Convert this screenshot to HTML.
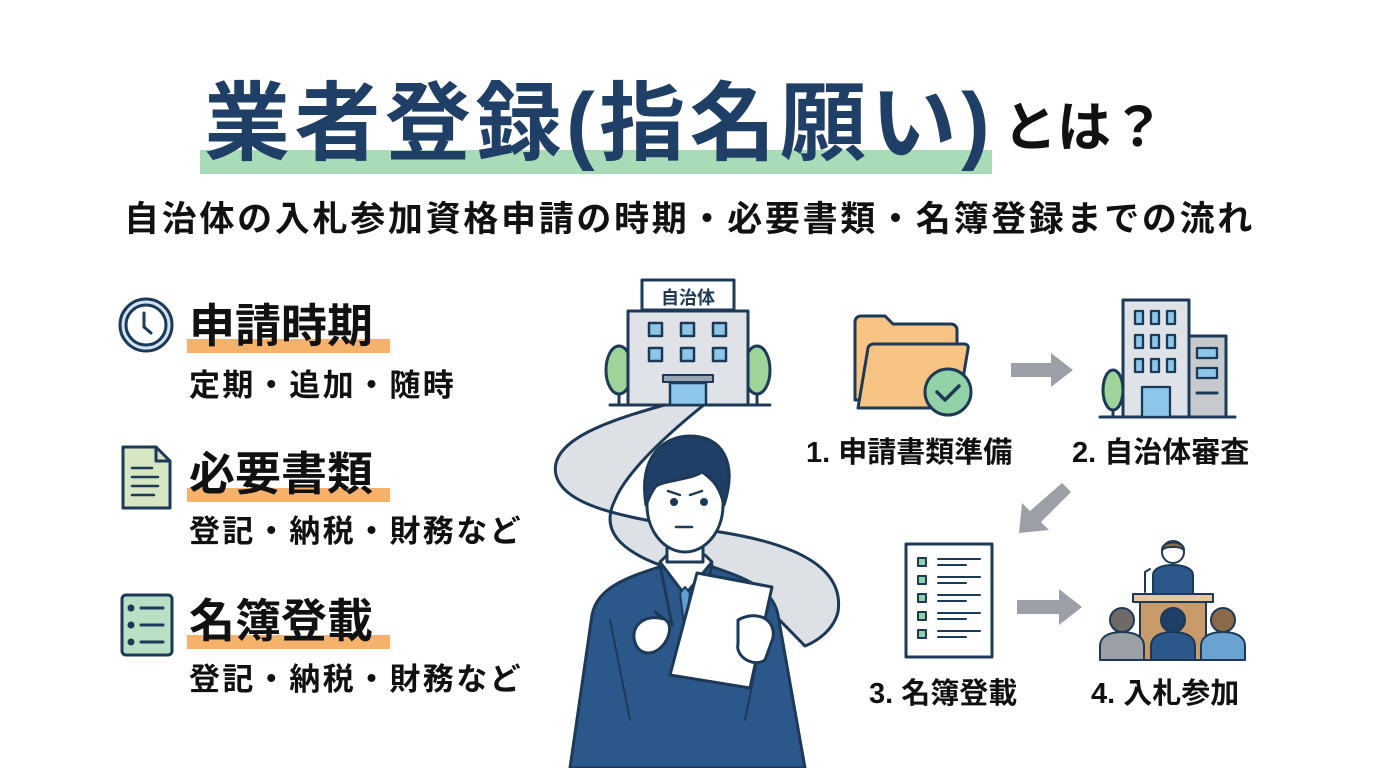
<!DOCTYPE html>
<html><head><meta charset="utf-8"><style>
body{margin:0;width:1376px;height:768px;background:#fff;overflow:hidden;position:relative;font-family:"Liberation Sans","Noto Sans CJK JP",sans-serif;font-weight:700}
.a{position:absolute;white-space:nowrap}
</style></head><body>
<div class="a" style="left:200px;top:150px;width:792px;height:24px;background:#a8dcb8"></div>
<div class="a" style="left:204px;top:74px;font-size:86px;color:#1f3f66;letter-spacing:4.5px;line-height:100px">業者登録(指名願い)</div>
<div class="a" style="left:1003px;top:93px;font-size:54px;color:#111;line-height:70px">とは？</div>
<div class="a" style="left:124px;top:196px;font-size:35px;color:#111;line-height:48px;letter-spacing:2.7px">自治体の入札参加資格申請の時期・必要書類・名簿登録までの流れ</div>

<div class="a" style="left:187px;top:339px;width:203px;height:14px;background:#f6b26b"></div>
<div class="a" style="left:187px;top:488px;width:203px;height:14px;background:#f6b26b"></div>
<div class="a" style="left:187px;top:635px;width:203px;height:14px;background:#f6b26b"></div>
<div class="a" style="left:189px;top:298px;font-size:46px;color:#111;line-height:56px">申請時期</div>
<div class="a" style="left:189px;top:446px;font-size:46px;color:#111;line-height:56px">必要書類</div>
<div class="a" style="left:189px;top:593px;font-size:46px;color:#111;line-height:56px">名簿登載</div>
<div class="a" style="left:189px;top:365px;font-size:31px;color:#111;line-height:42px;letter-spacing:2.4px">定期・追加・随時</div>
<div class="a" style="left:189px;top:511px;font-size:31px;color:#111;line-height:42px;letter-spacing:2.4px">登記・納税・財務など</div>
<div class="a" style="left:189px;top:659px;font-size:31px;color:#111;line-height:42px;letter-spacing:2.4px">登記・納税・財務など</div>

<div class="a" style="left:806px;top:433px;font-size:29px;color:#111;line-height:40px">1. 申請書類準備</div>
<div class="a" style="left:1072px;top:433px;font-size:29px;color:#111;line-height:40px">2. 自治体審査</div>
<div class="a" style="left:869px;top:674px;font-size:29px;color:#111;line-height:40px">3. 名簿登載</div>
<div class="a" style="left:1091px;top:674px;font-size:29px;color:#111;line-height:40px">4. 入札参加</div>

<svg class="a" style="left:0;top:0" width="1376" height="768" viewBox="0 0 1376 768">
<g stroke="#1c3a57" stroke-width="3" stroke-linejoin="round" stroke-linecap="round">
<circle cx="146" cy="325" r="26" fill="#cfe3f2"/><circle cx="146" cy="325" r="20" fill="#fff"/>
<path d="M144 313v14l7 6" fill="none"/>
<path d="M123 447h33l14 14v47h-47z" fill="#d6e6c2"/><path d="M156 447v14h14" fill="none"/>
<path d="M132 468h20M132 477h26M132 486h26M132 495h22" fill="none" stroke-width="2.5"/>
<rect x="122" y="595" width="50" height="60" rx="4" fill="#b9dfc4"/>
<path d="M141 608h22M141 625h22M141 642h22" fill="none"/>
<circle cx="131" cy="608" r="2" fill="#1c3a57"/><circle cx="131" cy="625" r="2" fill="#1c3a57"/><circle cx="131" cy="642" r="2" fill="#1c3a57"/>

<path d="M668 404 C610 420 548 440 556 475 C565 510 640 520 720 532 C790 543 845 565 838 612 C834 628 820 640 805 646 L760 600 C740 585 700 575 660 565 C620 550 600 530 615 500 C625 475 660 440 705 404z" fill="#dde0e4"/>
<path d="M610 405h160" fill="none"/>
<ellipse cx="619" cy="370" rx="13" ry="24" fill="#9ed39a"/><path d="M619 394v11" />
<ellipse cx="757" cy="370" rx="13" ry="24" fill="#9ed39a"/><path d="M757 394v11"/>
<rect x="628" y="311" width="120" height="94" fill="#dfe2e7"/>
<rect x="642" y="280" width="92" height="30" fill="#fff"/>
<g fill="#8ec6ea" stroke-width="2.5">
<rect x="649" y="323" width="13" height="13"/><rect x="681" y="323" width="13" height="13"/><rect x="713" y="323" width="13" height="13"/>
<rect x="649" y="348" width="13" height="13"/><rect x="681" y="348" width="13" height="13"/><rect x="713" y="348" width="13" height="13"/>
<rect x="670" y="383" width="36" height="22"/></g>
<rect x="663" y="375" width="50" height="7" fill="#9aa4ae" stroke-width="2"/>

<path d="M570 768 L592 615 C597 588 625 578 662 566 L710 566 C745 578 773 588 778 615 L805 768z" fill="#2c578a"/>
<path d="M660 562 L685 595 L712 562 L705 555 H667z" fill="#fff"/>
<path d="M680 593 l5 -6 l5 6 l-4 32 h-2z" fill="#5f9fd3" stroke-width="2"/>
<path d="M660 565 L672 625 L655 612 M712 565 L698 625" fill="none"/>
<path d="M610 620 L630 720 M765 620 L745 720" fill="none" stroke-width="2"/>
<rect x="667" y="525" width="36" height="37" fill="#fff"/>
<ellipse cx="685" cy="505" rx="38" ry="47" fill="#fff"/>
<path d="M646 505 C638 455 665 436 690 436 C722 436 738 462 724 505 C720 488 714 480 702 472 C690 480 665 480 656 486 C651 492 649 498 646 505z" fill="#1f3f66"/>
<path d="M668 491l12 4M702 491l-12 4 M676 527h16" fill="none" stroke-width="2.5"/>
<circle cx="674" cy="502" r="2.5" fill="#1c3a57"/><circle cx="704" cy="502" r="2.5" fill="#1c3a57"/>
<path d="M697 573 L772 587 L750 688 L670 675z" fill="#fff"/>
<path d="M636 645 c-8 -18 8 -32 28 -26 c10 4 6 24 -8 32 c-8 4 -16 2 -20 -6z" fill="#fff"/>
<path d="M738 620 c18 -10 38 -2 35 18 l-8 22 c-12 8 -30 -4 -27 -16z" fill="#fff"/>

<path d="M855 400V322c0-4 3-6 6-6h24l8 8h58c4 0 6 3 6 6v70z" fill="#f7c383"/>
<path d="M858 408l10-60c1-3 3-4 6-4h90c3 0 5 2 4 5l-10 59z" fill="#f7c383"/>
<circle cx="948" cy="392" r="23" fill="#92d1a6"/><path d="M937 392l8 8 14-14" fill="none" stroke-width="3.5"/>

<path d="M1100 417h135" fill="none"/>
<ellipse cx="1113" cy="390" rx="10" ry="20" fill="#9ed39a"/><path d="M1113 410v7"/>
<rect x="1123" y="300" width="66" height="117" fill="#dfe2e7"/>
<rect x="1189" y="336" width="37" height="81" fill="#c6c9cd"/>
<g fill="#8ec6ea" stroke-width="2.3">
<rect x="1135" y="311" width="8" height="13"/><rect x="1151" y="311" width="8" height="13"/><rect x="1167" y="311" width="8" height="13"/>
<rect x="1135" y="335" width="8" height="13"/><rect x="1151" y="335" width="8" height="13"/><rect x="1167" y="335" width="8" height="13"/>
<rect x="1135" y="359" width="8" height="13"/><rect x="1151" y="359" width="8" height="13"/><rect x="1167" y="359" width="8" height="13"/>
<rect x="1142" y="387" width="28" height="30"/>
<rect x="1197" y="348" width="20" height="10"/><rect x="1197" y="368" width="20" height="10"/></g>
<path d="M1197 393h20" fill="none"/>

<rect x="906" y="544" width="86" height="113" fill="#fff"/>
<g fill="#92d1a6" stroke-width="2"><rect x="918" y="558" width="8" height="8"/><rect x="918" y="576" width="8" height="8"/><rect x="918" y="594" width="8" height="8"/><rect x="918" y="612" width="8" height="8"/><rect x="918" y="630" width="8" height="8"/></g>
<path d="M938 559h42M938 565h28M938 577h42M938 583h28M938 595h42M938 601h28M938 613h42M938 619h28M938 631h42M938 637h28" fill="none" stroke-width="2"/>

<path d="M1153 595v-20c0-6 8-10 20-10s20 4 20 10v20z" fill="#2c578a" stroke-width="2"/>
<circle cx="1173" cy="552" r="11" fill="#fff" stroke-width="2"/>
<path d="M1162 550c0-10 22-10 22 0c-4-4-18-4-22 0z" fill="#8a6a4a" stroke-width="2"/>
<path d="M1145 592v-20l5-3" fill="none" stroke-width="2"/>
<rect x="1133" y="594" width="80" height="8" fill="#e5c8a0" stroke-width="2"/>
<rect x="1140" y="602" width="66" height="58" fill="#c99a6a" stroke-width="2"/>
<g stroke-width="2">
<path d="M1100 660v-14c0-10 10-14 22-14s22 4 22 14v14z" fill="#9aa0a6"/><circle cx="1122" cy="620" r="12" fill="#6f6a66"/>
<path d="M1151 660v-14c0-10 10-14 22-14s22 4 22 14v14z" fill="#2c578a"/><circle cx="1173" cy="620" r="12" fill="#1f3f66"/>
<path d="M1201 660v-14c0-10 10-14 22-14s22 4 22 14v14z" fill="#6aa3d2"/><circle cx="1223" cy="620" r="12" fill="#8a6a4a"/>
</g>
</g>
<g fill="#9aa0a6">
<path d="M1011 363h40v-10l22 17-22 17v-10h-40z"/>
<path d="M1017 600h42v-11l23 18-23 18v-11h-42z"/>
<path d="M1062 483l9 9-30 30 8 8-30 3 3-30 8 8z"/>
</g>
<text x="688" y="304" font-size="18" text-anchor="middle" fill="#1c3a57" font-family="Liberation Sans, Noto Sans CJK JP, sans-serif" font-weight="700">自治体</text>
</svg>
</body></html>
